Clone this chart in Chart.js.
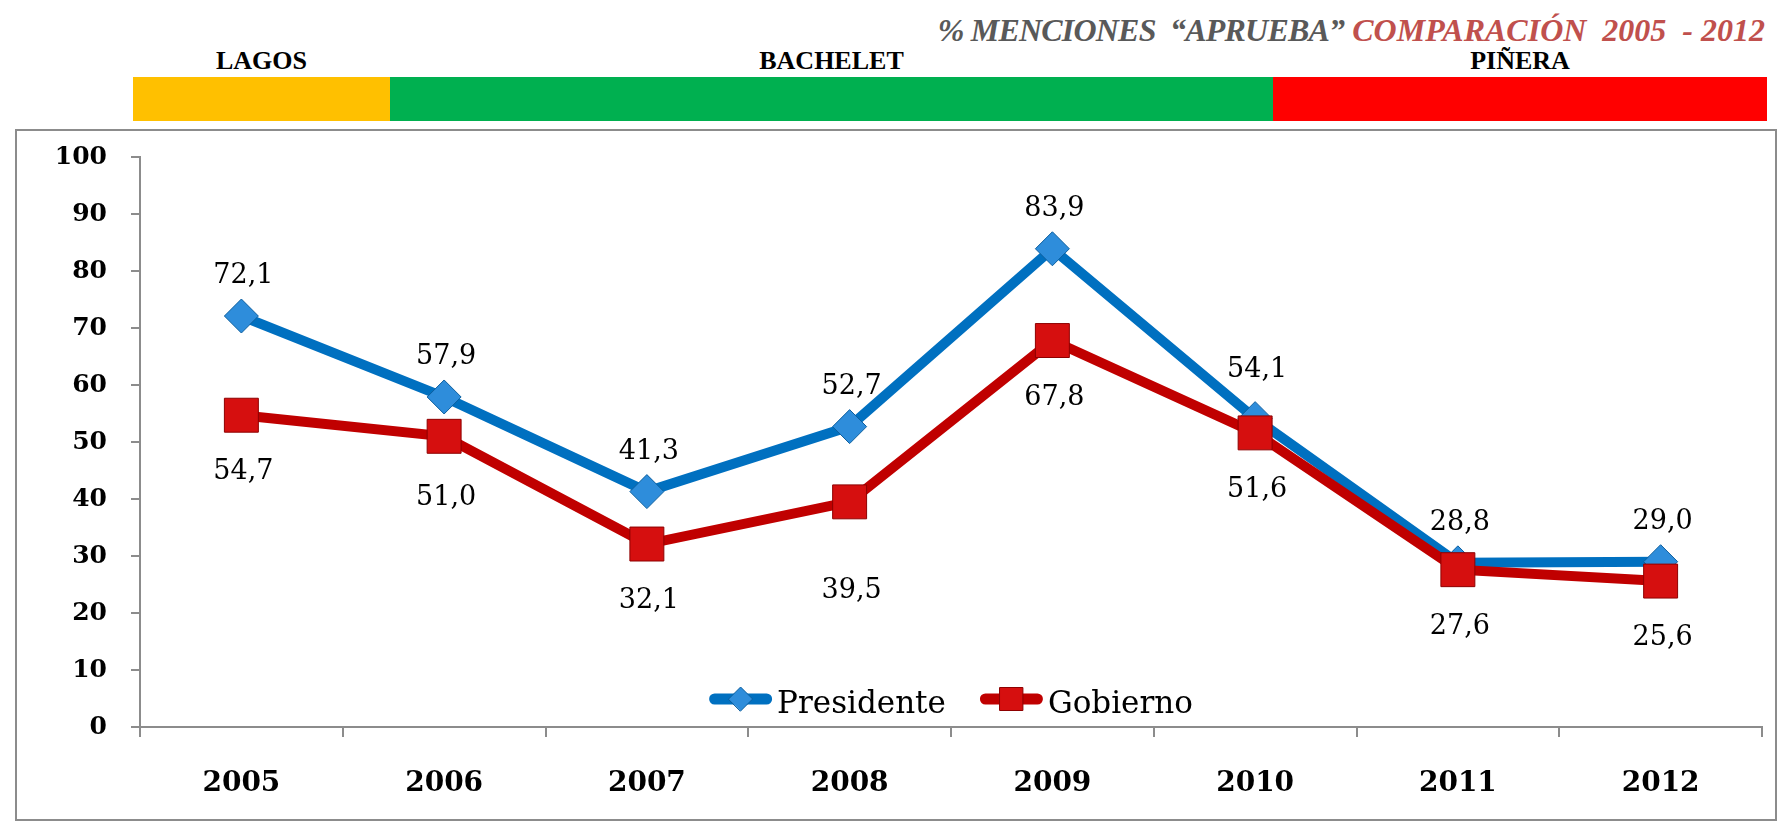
<!DOCTYPE html>
<html lang="es">
<head>
<meta charset="UTF-8">
<title>% Menciones "Aprueba" - Comparación 2005 - 2012</title>
<script src="https://cdn.jsdelivr.net/npm/chart.js"></script>
<style>
  body { margin: 0; background: #fff; }
  #pagina { position: relative; width: 1787px; height: 822px; overflow: hidden; }
  .titulo {
    position: absolute; right: 22px; top: 14px;
    font: italic bold 32px "Liberation Serif", serif; line-height: 32px;
    white-space: nowrap;
  }
  .titulo .gris { color: #595959; letter-spacing: -0.8px; }
  .titulo .rojo { color: #C0504D; }
  .periodo { position: absolute; top: 77px; height: 44px; }
  .periodo span {
    position: absolute; left: 0; right: 0; top: -29px; text-align: center;
    font: bold 26px "Liberation Serif", serif; line-height: 26px; color: #000;
  }
  #marco { position: absolute; left: 15px; top: 129px; width: 1758px; height: 688px; border: 2px solid #8c8c8c; }
  #grafico { position: absolute; left: 0; top: 0; }
</style>
</head>
<body>
<div id="pagina">
  <div class="titulo"><span class="gris">% MENCIONES &nbsp;“APRUEBA”</span> <span class="rojo">COMPARACIÓN &nbsp;2005 &nbsp;- 2012</span></div>

  <div class="periodo" style="left:133px; width:257px; background:#FFC000;"><span>LAGOS</span></div>
  <div class="periodo" style="left:390px; width:883px; background:#00B050;"><span>BACHELET</span></div>
  <div class="periodo" style="left:1273px; width:494px; background:#FF0000;"><span>PIÑERA</span></div>

  <div id="marco"></div>
  <canvas id="grafico" width="1787" height="822"></canvas>
</div>

<script>
  // datos
  const anios = ['2005', '2006', '2007', '2008', '2009', '2010', '2011', '2012'];
  const presidente = [72.1, 57.9, 41.3, 52.7, 83.9, 54.1, 28.8, 29.0];
  const gobierno = [54.7, 51.0, 32.1, 39.5, 67.8, 51.6, 27.6, 25.6];
  const series = ['Presidente', 'Gobierno'];

  const AZUL = '#0070C0';
  const ROJO = '#C00000';
  const GRIS = '#8c8c8c';

  function marcador(ctx, estilo, x, y, r, relleno, borde) {
    ctx.save();
    ctx.fillStyle = relleno;
    ctx.strokeStyle = borde;
    ctx.lineWidth = 1;
    ctx.beginPath();
    if (estilo === 'rectRot') {
      ctx.moveTo(x - r, y);
      ctx.lineTo(x, y - r);
      ctx.lineTo(x + r, y);
      ctx.lineTo(x, y + r);
      ctx.closePath();
    } else {
      ctx.rect(x - r, y - r, 2 * r, 2 * r);
    }
    ctx.fill();
    ctx.stroke();
    ctx.restore();
  }

  // valores sobre / bajo cada punto
  const etiquetas = {
    id: 'etiquetas',
    afterDatasetsDraw(chart, args, opts) {
      const ctx = chart.ctx;
      ctx.save();
      ctx.font = '27px "DejaVu Serif"';
      ctx.fillStyle = '#000';
      ctx.textAlign = 'center';
      ctx.textBaseline = 'middle';
      chart.data.datasets.forEach((ds, i) => {
        const desp = i === 0 ? -40 : 57;
        const extra = (opts.ajustes && opts.ajustes[i]) || {};
        chart.getDatasetMeta(i).data.forEach((pt, j) => {
          ctx.fillText(ds.data[j].toFixed(1).replace('.', ','), pt.x + 2, pt.y + desp + (extra[j] || 0));
        });
      });
      ctx.restore();
    }
  };

  // leyenda dentro del area, abajo al centro
  const leyenda = {
    id: 'leyenda',
    afterDraw(chart) {
      const ctx = chart.ctx;
      const area = chart.chartArea;
      ctx.save();
      ctx.font = '31px "DejaVu Serif"';
      const largo = 63, hueco = 5, separa = 34;
      const anchos = chart.data.datasets.map(ds => ctx.measureText(ds.label).width);
      const total = anchos.reduce((a, w) => a + largo + hueco + w, 0) + separa * (anchos.length - 1);
      let x = (area.left + area.right) / 2 - total / 2;
      const y = 699;
      chart.data.datasets.forEach((ds, i) => {
        ctx.strokeStyle = ds.borderColor;
        ctx.lineWidth = 11;
        ctx.lineCap = 'round';
        ctx.beginPath();
        ctx.moveTo(x + 5.5, y);
        ctx.lineTo(x + largo - 5.5, y);
        ctx.stroke();
        if (ds.pointStyle === 'rectRot') {
          marcador(ctx, 'rectRot', x + largo / 2, y, 12, ds.pointBackgroundColor, ds.pointBorderColor);
        } else {
          marcador(ctx, 'rect', x + largo / 2, y, 11.5, ds.pointBackgroundColor, ds.pointBorderColor);
        }
        ctx.fillStyle = '#000';
        ctx.textAlign = 'left';
        ctx.textBaseline = 'alphabetic';
        ctx.fillText(ds.label, x + largo + hueco, y + 14);
        x += largo + hueco + anchos[i] + separa;
      });
      ctx.restore();
    }
  };

  new Chart(document.getElementById('grafico'), {
    type: 'line',
    data: {
      labels: anios,
      datasets: [
        {
          label: series[0],
          data: presidente,
          borderColor: AZUL,
          borderWidth: 10,
          pointStyle: 'rectRot',
          pointRadius: 17,
          pointBackgroundColor: '#2E8DDB',
          pointBorderColor: '#0B5E9E',
          pointBorderWidth: 1,
          order: 1
        },
        {
          label: series[1],
          data: gobierno,
          borderColor: ROJO,
          borderWidth: 10,
          pointStyle: 'rect',
          pointRadius: 24,
          pointBackgroundColor: '#D60F0F',
          pointBorderColor: '#8E0000',
          pointBorderWidth: 1,
          order: 0
        }
      ]
    },
    options: {
      responsive: false,
      animation: false,
      devicePixelRatio: 1,
      layout: { padding: { left: 0, top: 157, right: 15, bottom: 0 } },
      elements: { line: { tension: 0 } },
      scales: {
        x: {
          offset: true,
          grid: { offset: true, drawOnChartArea: false, drawTicks: true, tickLength: 10, color: GRIS, lineWidth: 2 },
          border: { color: GRIS, width: 2 },
          ticks: { color: '#000', font: { family: 'DejaVu Serif', size: 28, weight: 'bold' }, padding: 30, maxRotation: 0 },
          afterFit(s) { s.height = 95; }
        },
        y: {
          min: 0,
          max: 100,
          ticks: { stepSize: 10, color: '#000', font: { family: 'DejaVu Serif', size: 25, weight: 'bold' }, padding: 24 },
          grid: { drawOnChartArea: false, drawTicks: true, tickLength: 9, color: GRIS, lineWidth: 2 },
          border: { color: GRIS, width: 2 },
          afterFit(s) { s.width = 140; }
        }
      },
      plugins: {
        legend: { display: false },
        tooltip: { enabled: false },
        etiquetas: { ajustes: { 0: { 5: -9 }, 1: { 1: 5, 3: 32 } } }
      }
    },
    plugins: [etiquetas, leyenda]
  });
</script>
</body>
</html>
